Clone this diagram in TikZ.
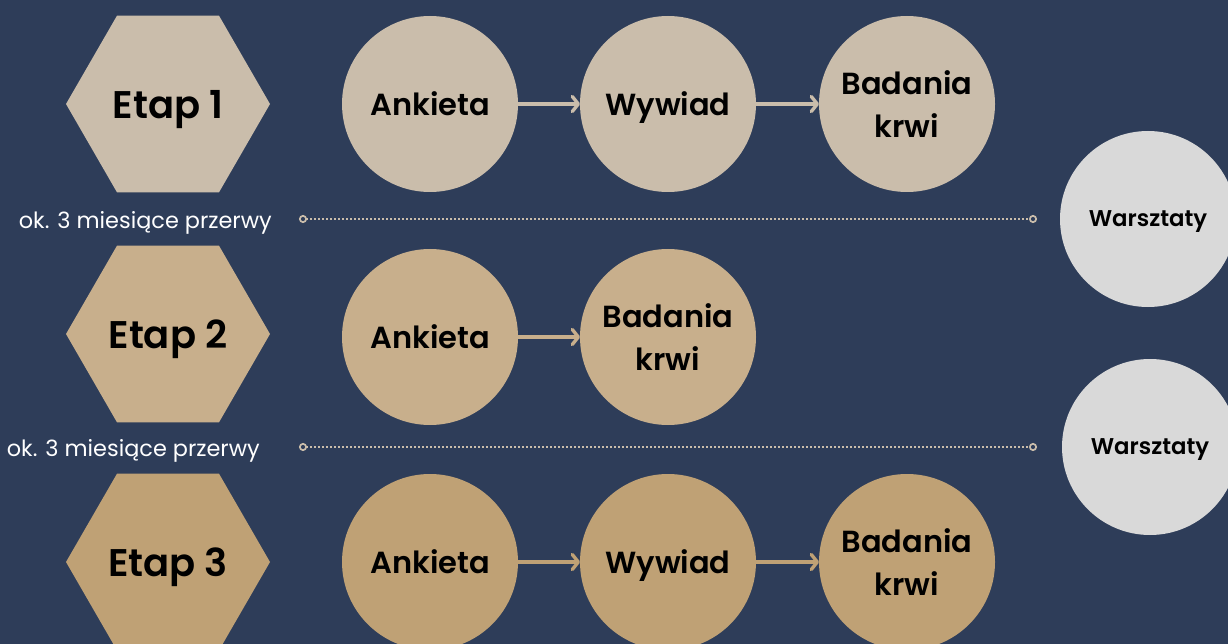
\documentclass[tikz,border=0pt]{standalone}
\usepackage{fontspec}
\setmainfont{Poppins}[BoldFont={Poppins SemiBold}]
\usetikzlibrary{shapes.geometric,arrows.meta}
\definecolor{bg}{HTML}{2E3D59}
\definecolor{ca}{HTML}{CABDAB}
\definecolor{cb}{HTML}{C8AF8C}
\definecolor{cc}{HTML}{BFA175}
\definecolor{cw}{HTML}{D9D9D9}
\begin{document}
\begin{tikzpicture}[x=1pt,y=-1pt,
  hexa/.style={regular polygon, regular polygon sides=6, minimum size=204pt, inner sep=0pt, outer sep=0pt, text=black, text depth=0pt, font=\bfseries\fontsize{38.5}{40}\selectfont},
  stepc/.style={circle, minimum size=176pt, inner sep=0pt, outer sep=0pt, align=center, text=black, font=\bfseries\fontsize{30.5}{43}\selectfont},
  stepd/.style={stepc, text depth=0pt},
  worksc/.style={circle, minimum size=176pt, inner sep=0pt, outer sep=0pt, fill=cw, text=black, text depth=0pt, font=\bfseries\fontsize{22.8}{24}\selectfont},
  flow/.style={line width=3.4pt, -{Straight Barb[length=6pt,width=15pt,round]}},
  dotline/.style={draw=ca, line width=1.7pt, dash pattern=on 1.7pt off 2.3pt, {Circle[open,length=8pt,width=8pt,fill=bg]}-{Circle[open,length=8pt,width=8pt,fill=bg]}},
  lbl/.style={text=white, inner sep=0pt, anchor=east, text depth=0pt, font=\fontsize{22.4}{24}\selectfont}
]
\fill[bg] (0,0) rectangle (1228,644);
\useasboundingbox (0,0) rectangle (1228,644);
% row 1
\node[hexa, fill=ca] (e1) at (168,104) {Etap 1};
\node[stepd, fill=ca] (a1) at (430,104) {Ankieta};
\node[stepd, fill=ca] (w1) at (668,104) {Wywiad};
\node[stepc, fill=ca] (b1) at (907,104) {Badania\\krwi};
\draw[flow, draw=ca] (a1) -- (w1);
\draw[flow, draw=ca] (w1) -- (b1);
% row 2
\node[hexa, fill=cb] (e2) at (168,334) {Etap 2};
\node[stepd, fill=cb] (a2) at (430,337) {Ankieta};
\node[stepc, fill=cb] (b2) at (668,337) {Badania\\krwi};
\draw[flow, draw=cb] (a2) -- (b2);
% row 3
\node[hexa, fill=cc] (e3) at (168,562) {Etap 3};
\node[stepd, fill=cc] (a3) at (430,562) {Ankieta};
\node[stepd, fill=cc] (w3) at (668,562) {Wywiad};
\node[stepc, fill=cc] (b3) at (907,562) {Badania\\krwi};
\draw[flow, draw=cc] (a3) -- (w3);
\draw[flow, draw=cc] (w3) -- (b3);
% breaks
\node[lbl] (l1) at (272,220) {ok. 3 miesiące przerwy};
\node[lbl] (l2) at (260,448) {ok. 3 miesiące przerwy};
\coordinate (d1a) at (299,219);
\coordinate (d1b) at (1037,219);
\coordinate (d2a) at (299,447);
\coordinate (d2b) at (1037,447);
\draw[dotline] (d1a) -- (d1b);
\draw[dotline] (d2a) -- (d2b);
\node[worksc] (k1) at (1148,219) {Warsztaty};
\node[worksc] (k2) at (1150,447) {Warsztaty};
\end{tikzpicture}
\end{document}
